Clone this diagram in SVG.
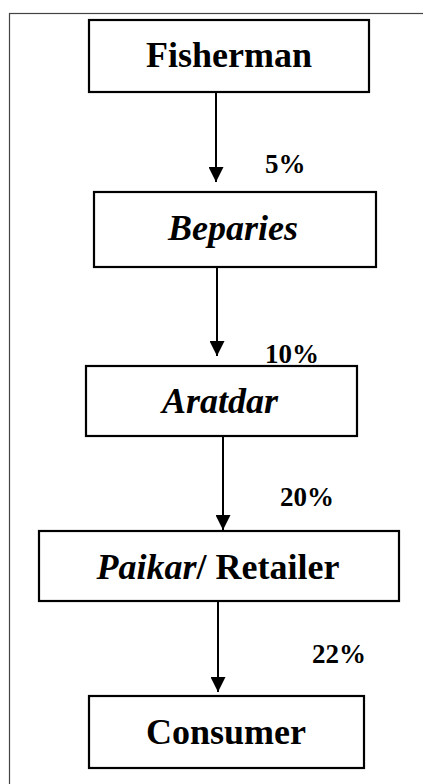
<svg xmlns="http://www.w3.org/2000/svg" width="423" height="784" viewBox="0 0 423 784">
<defs>
<style>
.box{fill:#fff;stroke:#000;stroke-width:2.2}
.lbl{font-family:'Liberation Serif','Times New Roman',Times,serif;font-size:36px;font-weight:700;text-anchor:middle;fill:#000}
.it{font-style:italic}
.pct{font-family:'Liberation Serif','Times New Roman',Times,serif;font-size:27px;font-weight:700;fill:#000}
.conn{stroke:#000;stroke-width:2;fill:none;marker-end:url(#ah)}
</style>
<marker id="ah" markerWidth="7.5" markerHeight="7.5" refX="7.5" refY="3.75" orient="auto" markerUnits="strokeWidth">
<path d="M0,0 L7.5,3.75 L0,7.5 Z" fill="#000"/>
</marker>
</defs>
<rect width="423" height="784" fill="#fff"/>
<rect x="9.5" y="13.5" width="430" height="790" fill="none" stroke="#444" stroke-width="1.2"/>
<g id="connectors">
<line class="conn" x1="216" y1="92" x2="216" y2="182"/>
<line class="conn" x1="217" y1="267" x2="217" y2="356"/>
<line class="conn" x1="223" y1="436" x2="223" y2="530"/>
<line class="conn" x1="218" y1="601" x2="218" y2="692"/>
<text class="pct" x="265" y="173">5%</text>
<text class="pct" x="265" y="363">10%</text>
<text class="pct" x="280" y="506">20%</text>
<text class="pct" x="312" y="663">22%</text>
</g>
<g id="fisherman">
<rect class="box" x="89" y="20" width="280" height="72"/>
<text class="lbl" x="229" y="67">Fisherman</text>
</g>
<g id="beparies">
<rect class="box" x="94" y="192" width="282" height="75"/>
<text class="lbl it" x="233" y="240">Beparies</text>
</g>
<g id="aratdar">
<rect class="box" x="86" y="366" width="271" height="70"/>
<text class="lbl it" x="220" y="413">Aratdar</text>
</g>
<g id="paikar">
<rect class="box" x="39" y="531" width="360" height="70"/>
<text class="lbl" x="218" y="579"><tspan class="it">Paikar</tspan>/ Retailer</text>
</g>
<g id="consumer">
<rect class="box" x="89" y="696" width="275" height="72"/>
<text class="lbl" x="226" y="744">Consumer</text>
</g>
</svg>
